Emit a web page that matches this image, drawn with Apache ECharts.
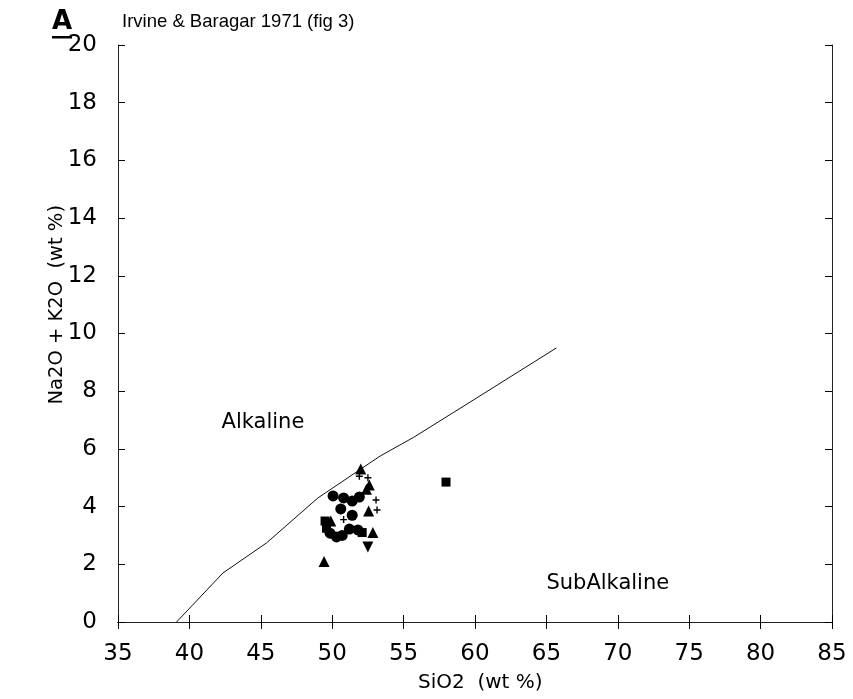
<!DOCTYPE html>
<html><head><meta charset="utf-8">
<script src="https://cdn.jsdelivr.net/npm/echarts@6/dist/echarts.min.js"></script>
<style>html,body{margin:0;padding:0;background:#fff}#c{width:853px;height:699px}</style>
</head><body><div id="c"></div>
<script>
// Irvine & Baragar (1971) alkaline / subalkaline dividing line
var dividerLine = [[39.1,0],[42.35,1.7],[45.4,2.74],[49.0,4.3],[53.35,5.75],[55.7,6.4],[60.1,7.76],[65.7,9.5]];
// samples (SiO2, Na2O+K2O)
var circles = [[50.06,4.37],[50.8,4.3],[51.4,4.19],[51.9,4.33],[50.6,3.92],[51.4,3.7],[49.85,3.08],[50.3,2.95],[50.7,3.0],[51.2,3.22],[51.8,3.19]];
var triangles = [[52.0,5.3],[52.4,4.6],[52.55,3.85],[52.85,3.1],[49.43,2.1],[49.9,3.5],[52.6,4.75]];
var squares = [[49.5,3.5],[49.6,3.25],[52.1,3.1],[57.97,4.85]];
var invTriangles = [[52.5,2.6]];
var crosses = [[52.5,5.0],[53.07,4.23],[53.14,3.88],[50.8,3.55],[51.9,5.05]];
var fieldLabels = [[45.15,6.9,'Alkaline'],[69.3,1.35,'SubAlkaline']];
var xTicks = [35,40,45,50,55,60,65,70,75,80,85];
var yTicks = [0,2,4,6,8,10,12,14,16,18,20];

var FONT = 'DejaVu Sans';
var chart = echarts.init(document.getElementById('c'));
var tickStyle = {show:true, inside:true, length:7, lineStyle:{color:'#000', width:1}};
var lineStyleAx = {show:true, lineStyle:{color:'#222', width:1}};
function baseX(pos, labels){
  return {type:'value', position:pos, min:35, max:85, interval:5,
    axisLine:lineStyleAx, axisTick:tickStyle, splitLine:{show:false},
    axisLabel:{show:labels, color:'#000', fontSize:23, fontFamily:FONT, margin:21,
      formatter:function(v){return xTicks.indexOf(v)>=0?String(v):'';}}};
}
function baseY(pos, labels){
  return {type:'value', position:pos, min:0, max:20, interval:2,
    axisLine:lineStyleAx, axisTick:tickStyle, splitLine:{show:false},
    axisLabel:{show:labels, color:'#000', fontSize:23, fontFamily:FONT, margin:21,
      formatter:function(v){return yTicks.indexOf(v)>=0?String(v):'';}}};
}
var plus = 'path://M4,0 L6,0 L6,4 L10,4 L10,6 L6,6 L6,10 L4,10 L4,6 L0,6 L0,4 L4,4 Z';
var dark = {color:'#000', opacity:1};
chart.setOption({
  animation:false,
  backgroundColor:'#fff',
  grid:{left:118, right:21, top:45, bottom:77},
  xAxis:[baseX('bottom',true), baseX('top',false)],
  yAxis:[baseY('left',true), baseY('right',false)],
  graphic:[
    {type:'text', left:52, top:9, style:{text:'A', fontSize:26, fontWeight:'bold', fontFamily:FONT, fill:'#000'}},
    {type:'rect', left:52, top:36, shape:{width:20, height:2.5}, style:{fill:'#000'}},
    {type:'text', left:122, top:12, style:{text:'Irvine & Baragar 1971 (fig 3)', fontSize:18.5, fontFamily:'Liberation Sans', fill:'#000'}},
    {type:'text', left:418, top:673, style:{text:'SiO2  (wt %)', fontSize:20, fontFamily:FONT, fill:'#000'}},
    {type:'text', left:47, top:205, rotation:Math.PI/2, style:{text:'Na2O + K2O  (wt %)', fontSize:19.5, fontFamily:FONT, fill:'#000'}}
  ],
  series:[
    {type:'line', data:dividerLine, showSymbol:false, symbol:'none', lineStyle:{color:'#111', width:1}, z:1},
    {type:'scatter', data:circles, symbol:'circle', symbolSize:11, itemStyle:dark},
    {type:'scatter', data:triangles, symbol:'triangle', symbolSize:11, itemStyle:dark},
    {type:'scatter', data:squares, symbol:'rect', symbolSize:9, itemStyle:dark},
    {type:'scatter', data:invTriangles, symbol:'triangle', symbolRotate:180, symbolSize:11, itemStyle:dark},
    {type:'scatter', data:crosses, symbol:plus, symbolSize:7, itemStyle:dark},
    {type:'scatter', data:fieldLabels.map(function(d){return {value:[d[0],d[1]], name:d[2]};}),
      symbolSize:0, itemStyle:dark,
      label:{show:true, position:'inside', formatter:'{b}', color:'#000', fontSize:21, fontFamily:FONT}}
  ]
});
</script></body></html>
